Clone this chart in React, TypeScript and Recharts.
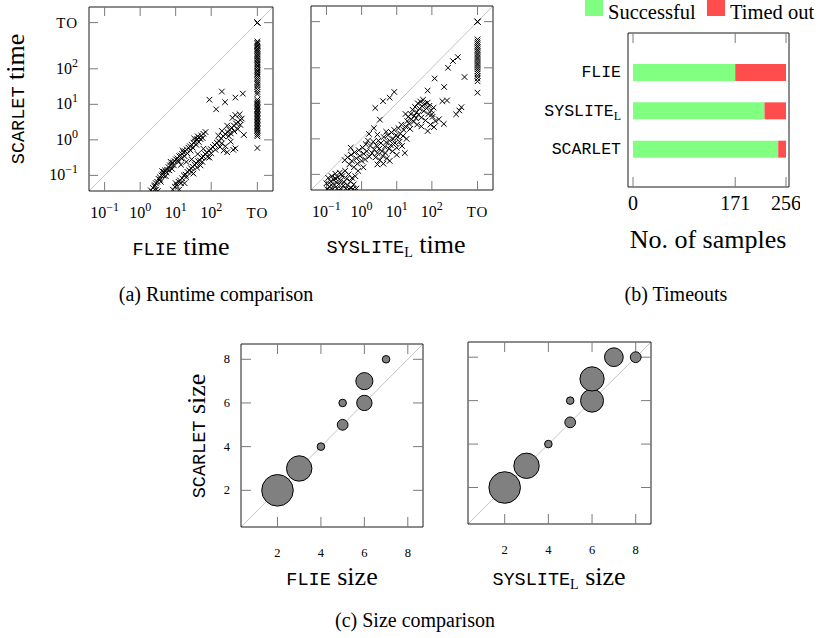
import type { ReactElement } from "react";
import { Bar, BarChart, ReferenceLine, Scatter, ScatterChart, XAxis, YAxis, ZAxis } from "recharts";

const SERIF = "'Liberation Serif', 'Times New Roman', serif";
const MONO = "'Liberation Mono', 'DejaVu Sans Mono', monospace";
const FRAME = { stroke: "#1a1a1a", strokeWidth: 1 };
const TICK = { stroke: "#7a7a7a", strokeWidth: 1 };
const GREEN = "#80ff80";
const RED = "#ff4d4d";

// ---- runtime comparison (log10 seconds, TO = timeout) ----
const TO_LOG = 3.3;
const TIME_TICKS = [-1, 0, 1, 2, TO_LOG];
const TIME_DOMAIN: [number, number] = [-1.44, 3.74];

// [FLIE, SCARLET]
const flieVsScarlet: [number, number][] = [
  [0.3, -1.42], [0.34, -1.46], [0.36, -1.35], [0.4, -1.3], [0.44, -1.22], [0.45, -1.4], [0.48, -1.18],
  [0.5, -1.44], [0.52, -1.1], [0.55, -1.05], [0.58, -1.18], [0.6, -1.0], [0.63, -0.97], [0.67, -0.9],
  [0.7, -0.86], [0.72, -1.02], [0.76, -0.84], [0.8, -0.77], [0.84, -0.72], [0.88, -0.7], [0.9, -0.82],
  [0.92, -0.64], [0.97, -0.6], [1.01, -0.55], [1.05, -0.52], [1.08, -0.62], [1.1, -0.46], [1.14, -0.44],
  [1.18, -0.4], [1.22, -0.35], [1.25, -0.46], [1.27, -0.32], [1.31, -0.27], [1.36, -0.22], [1.4, -0.18],
  [1.42, -0.3], [1.45, -0.14], [1.5, -0.08], [1.55, -0.05], [1.58, -0.14], [1.6, 0.02], [1.66, 0.06],
  [1.72, 0.12], [1.78, 0.17], [1.84, 0.22], [1.62, 0.1], [1.7, 0.02], [1.52, 0.04],
  [0.42, -1.28], [0.56, -1.12], [0.66, -1.0], [0.74, -0.92], [0.82, -0.86], [0.95, -0.72], [1.06, -0.58],
  [1.16, -0.52], [1.33, -0.38], [1.48, -0.22], [1.65, -0.06], [1.76, 0.05], [0.62, -0.88], [0.86, -0.62],
  [1.2, -0.3],
  [1.15, -0.7], [1.3, -0.62], [1.45, -0.55], [1.62, -0.4], [1.78, -0.25],
  [0.92, -1.4], [0.98, -1.32], [1.03, -1.28], [1.08, -1.18], [1.1, -1.4], [1.12, -1.14], [1.18, -1.08],
  [1.23, -1.0], [1.25, -1.22], [1.28, -0.98], [1.33, -0.9], [1.38, -0.86], [1.43, -0.8], [1.48, -0.76],
  [1.5, -0.95], [1.53, -0.7], [1.58, -0.66], [1.63, -0.6], [1.68, -0.58], [1.7, -0.72], [1.73, -0.5],
  [1.78, -0.47], [1.83, -0.4], [1.88, -0.36], [1.94, -0.3], [1.95, -0.5], [1.99, -0.26], [2.05, -0.2],
  [2.1, -0.14], [2.16, -0.08], [2.22, -0.04], [2.25, -0.2], [2.28, 0.04], [2.34, 0.1], [2.4, 0.16],
  [2.4, -0.18], [2.46, 0.22], [2.45, -0.35], [2.52, 0.28], [2.55, -0.05], [2.58, 0.34], [2.62, -0.28],
  [2.64, 0.4], [2.68, -0.24], [2.7, 0.46], [2.76, 0.5], [2.75, 0.3], [2.82, 0.56], [2.86, 0.6],
  [2.2, 0.12], [2.3, 0.25], [2.45, 0.4], [2.6, 0.62], [2.68, 0.7], [2.8, 0.72],
  [1.0, -1.22], [1.15, -1.22], [1.3, -1.05], [1.45, -0.9], [1.6, -0.78], [1.75, -0.62], [1.9, -0.48],
  [2.0, -0.38], [2.12, -0.28], [2.3, -0.1], [2.5, 0.1], [2.65, 0.24], [2.82, 0.42], [2.35, -0.3],
  [2.55, 0.18],
  [1.95, 1.13], [2.14, 0.86], [2.3, 1.36], [2.39, 1.06], [2.68, 1.19], [2.89, 1.3], [2.92, 0.14],
  [TO_LOG, 2.77], [TO_LOG, 2.73], [TO_LOG, 2.7], [TO_LOG, 2.65], [TO_LOG, 2.62], [TO_LOG, 2.57],
  [TO_LOG, 2.53], [TO_LOG, 2.5], [TO_LOG, 2.45], [TO_LOG, 2.41], [TO_LOG, 2.36], [TO_LOG, 2.33],
  [TO_LOG, 2.28], [TO_LOG, 2.24], [TO_LOG, 2.19], [TO_LOG, 2.15], [TO_LOG, 2.1], [TO_LOG, 2.06],
  [TO_LOG, 2.01], [TO_LOG, 1.96], [TO_LOG, 1.92], [TO_LOG, 1.87], [TO_LOG, 1.83], [TO_LOG, 1.78],
  [TO_LOG, 1.72], [TO_LOG, 1.66], [TO_LOG, 1.6], [TO_LOG, 1.55], [TO_LOG, 1.49], [TO_LOG, 1.42],
  [TO_LOG, 1.35], [TO_LOG, 1.29], [TO_LOG, 1.13], [TO_LOG, 1.08], [TO_LOG, 1.04], [TO_LOG, 1.0],
  [TO_LOG, 0.96], [TO_LOG, 0.92], [TO_LOG, 0.88], [TO_LOG, 0.85], [TO_LOG, 0.81], [TO_LOG, 0.77],
  [TO_LOG, 0.73], [TO_LOG, 0.69], [TO_LOG, 0.65], [TO_LOG, 0.61], [TO_LOG, 0.57], [TO_LOG, 0.53],
  [TO_LOG, 0.49], [TO_LOG, 0.45], [TO_LOG, 0.41], [TO_LOG, 0.37], [TO_LOG, 0.33], [TO_LOG, 0.29],
  [TO_LOG, 0.25], [TO_LOG, 0.2], [TO_LOG, 0.15], [TO_LOG, 0.1], [TO_LOG, -0.23],
  [TO_LOG, TO_LOG], [TO_LOG, TO_LOG], [TO_LOG, TO_LOG], [TO_LOG, TO_LOG],
];

// [SYSLITE_L, SCARLET]
const syslVsScarlet: [number, number][] = [
  [-1.0, -1.25], [-0.95, -1.1], [-0.92, -1.35], [-0.88, -1.2], [-0.85, -1.05], [-0.82, -1.42], [-0.8, -1.15],
  [-0.77, -1.3], [-0.75, -0.98], [-0.72, -1.22], [-0.7, -1.4], [-0.68, -1.08], [-0.65, -1.28], [-0.62, -0.95],
  [-0.6, -1.18], [-0.58, -1.42], [-0.55, -1.05], [-0.52, -1.32], [-0.5, -1.22], [-0.47, -0.9], [-0.45, -1.4],
  [-0.42, -1.12], [-0.4, -1.3], [-0.37, -1.0], [-0.35, -1.42], [-0.32, -1.2], [-0.3, -1.38], [-0.27, -1.1],
  [-0.25, -1.42], [-0.22, -1.28], [-0.18, -1.05], [-0.15, -1.4], [-0.9, -1.45], [-0.65, -1.45], [-0.4, -1.45],
  [-0.2, -1.45], [-0.98, -1.42], [-0.86, -1.3], [-0.74, -1.12], [-0.58, -1.0],
  [-0.48, -0.6], [-0.4, -0.52], [-0.35, -0.72], [-0.3, -0.45], [-0.28, -0.62], [-0.22, -0.8], [-0.2, -0.38],
  [-0.15, -0.55], [-0.12, -0.7], [-0.08, -0.32], [-0.05, -0.48], [0.0, -0.62], [0.03, -0.25], [0.06, -0.42],
  [0.1, -0.58], [0.12, -0.15], [0.15, -0.35], [0.18, -0.05], [0.22, -0.5], [-0.1, -0.9], [0.05, -0.8],
  [-0.31, -0.25], [0.21, 0.14], [0.35, 0.3], [0.45, 0.12],
  [0.25, -0.2], [0.3, -0.4], [0.33, -0.08], [0.36, -0.3], [0.4, -0.52], [0.42, -0.18], [0.45, -0.4],
  [0.48, -0.05], [0.5, -0.28], [0.52, -0.6], [0.55, -0.12], [0.58, -0.35], [0.6, -0.48], [0.63, 0.05],
  [0.66, -0.22], [0.68, -0.4], [0.7, -0.1], [0.72, -0.55], [0.75, 0.1], [0.78, -0.28], [0.8, -0.05],
  [0.83, -0.18], [0.85, 0.18], [0.88, -0.35], [0.9, 0.0], [0.93, 0.25], [0.95, -0.12], [0.98, 0.1],
  [1.0, -0.25], [1.03, 0.05], [1.05, 0.3], [1.08, -0.08], [1.1, 0.15], [1.13, 0.4], [1.15, -0.2],
  [1.18, 0.08], [1.2, 0.25], [1.23, -0.4], [1.25, 0.35], [1.28, 0.0], [0.62, -0.7], [0.8, -0.62],
  [0.45, -0.72], [1.0, -0.45], [0.7, 0.2],
  [1.3, 0.5], [1.33, 0.62], [1.36, 0.42], [1.4, 0.7], [1.42, 0.55], [1.45, 0.82], [1.48, 0.48],
  [1.5, 0.65], [1.52, 0.9], [1.55, 0.58], [1.57, 0.75], [1.6, 1.0], [1.62, 0.68], [1.65, 0.85],
  [1.67, 1.05], [1.7, 0.6], [1.72, 0.92], [1.75, 1.1], [1.77, 0.78], [1.8, 0.98], [1.82, 0.52],
  [1.85, 0.86], [1.88, 1.02], [1.9, 0.7], [1.93, 0.93], [1.96, 0.4], [1.98, 0.8], [2.02, 0.62],
  [2.05, 0.88], [1.58, 0.4], [1.38, 0.28], [1.7, 0.35], [1.88, 0.22], [2.1, 0.5], [1.25, 0.7],
  [2.08, 1.7], [1.88, 1.36], [2.35, 1.46], [2.46, 2.0], [2.6, 2.19], [2.74, 2.3], [2.93, 1.74],
  [2.43, 1.08], [2.3, 1.06], [2.84, 0.89], [2.69, 0.69], [2.78, 0.8], [2.34, 0.42], [2.06, 0.33],
  [2.0, 0.69], [2.2, 0.55], [0.61, 1.06], [0.8, 1.16], [0.93, 1.32], [0.39, 0.87], [0.52, 0.54],
  [TO_LOG, 2.8], [TO_LOG, 2.74], [TO_LOG, 2.69], [TO_LOG, 2.63], [TO_LOG, 2.58], [TO_LOG, 2.52],
  [TO_LOG, 2.47], [TO_LOG, 2.41], [TO_LOG, 2.36], [TO_LOG, 2.3], [TO_LOG, 2.25], [TO_LOG, 2.19],
  [TO_LOG, 2.13], [TO_LOG, 2.08], [TO_LOG, 2.02], [TO_LOG, 1.96], [TO_LOG, 1.9], [TO_LOG, 1.84],
  [TO_LOG, 1.77], [TO_LOG, 1.7], [TO_LOG, 1.62], [TO_LOG, 1.3],
  [TO_LOG, TO_LOG], [TO_LOG, TO_LOG], [TO_LOG, TO_LOG], [TO_LOG, TO_LOG],
];

// ---- timeouts ----
const solvers = ["FLIE", "SYSLITE_L", "SCARLET"];
const successful = [171, 220, 243];
const timedOut = [85, 36, 13];
const BAR_TICKS = [0, 171, 256];
const BAR_DOMAIN: [number, number] = [-8.4, 261];

// ---- size comparison: [other size, SCARLET size, no. of samples] ----
const SIZE_TICKS = [2, 4, 6, 8];
const SIZE_DOMAIN: [number, number] = [0.32, 8.7];
const flieSizes: [number, number, number][] = [
  [2, 2, 17], [3, 3, 11], [4, 4, 1], [5, 5, 2], [5, 6, 1], [6, 6, 4], [6, 7, 5], [7, 8, 1],
];
const syslSizes: [number, number, number][] = [
  [2, 2, 17], [3, 3, 11], [4, 4, 1], [5, 5, 2], [5, 6, 1], [6, 6, 9], [6, 7, 10], [7, 8, 6], [8, 8, 2],
];

type Pos = {
  left: number;
  top: number;
  width: number;
  height: number;
  margin: { top: number; right: number; bottom: number; left: number };
  yAxisWidth: number;
  xAxisHeight: number;
};

function XMark(props: any) {
  const { cx, cy } = props;
  if (cx == null || cy == null) return null;
  const s = 2.8;
  return (
    <path
      d={`M${cx - s},${cy - s}L${cx + s},${cy + s}M${cx - s},${cy + s}L${cx + s},${cy - s}`}
      stroke="#000"
      strokeWidth={1}
      fill="none"
    />
  );
}

const EmptyTick = () => <g />;

function timeLabel(v: number): ReactElement {
  if (v === TO_LOG) {
    return <tspan fontSize={15} letterSpacing={1}>TO</tspan>;
  }
  return (
    <>
      <tspan>10</tspan>
      <tspan dy={-7} fontSize={12}>{v < 0 ? `\u2212${-v}` : `${v}`}</tspan>
    </>
  );
}

function TimeTickX(props: any) {
  const { x, y, payload } = props;
  return (
    <text x={x} y={y + 27} textAnchor="middle" fontFamily={SERIF} fontSize={16} fill="#000">
      {timeLabel(payload.value)}
    </text>
  );
}

function TimeTickY(props: any) {
  const { x, y, payload } = props;
  return (
    <text x={x} y={y + 5} textAnchor="end" fontFamily={SERIF} fontSize={16} fill="#000">
      {timeLabel(payload.value)}
    </text>
  );
}

// top and right sides of the frame (1px wide axes, ticks pointing inward)
function topRightAxes(domain: [number, number], ticks: number[], tickLen: number) {
  const common = {
    type: "number" as const,
    domain,
    ticks,
    allowDataOverflow: true,
    tick: EmptyTick,
    interval: 0 as const,
    tickSize: -tickLen,
    axisLine: FRAME,
    tickLine: TICK,
  };
  return [
    <XAxis key="ft" xAxisId="ft" dataKey="x" orientation="top" height={1} {...common} />,
    <YAxis key="fr" yAxisId="fr" dataKey="y" orientation="right" width={1} {...common} />,
  ];
}

function TimeScatter({ pos, points, showYTicks }: { pos: Pos; points: [number, number][]; showYTicks: boolean }) {
  const solved = points.filter(([x]) => x !== TO_LOG).map(([x, y]) => ({ x, y }));
  const unsolved = points.filter(([x]) => x === TO_LOG).map(([x, y]) => ({ x, y }));
  return (
    <div style={{ position: "absolute", left: pos.left, top: pos.top }}>
      <ScatterChart width={pos.width} height={pos.height} margin={pos.margin}>
        {topRightAxes(TIME_DOMAIN, TIME_TICKS, 9)}
        <XAxis
          xAxisId="lab"
          dataKey="x"
          type="number"
          domain={TIME_DOMAIN}
          ticks={TIME_TICKS}
          allowDataOverflow
          interval={0}
          height={pos.xAxisHeight}
          axisLine={FRAME}
          tickLine={TICK}
          tickSize={-9}
          tickMargin={9}
          tick={(p: any) => <TimeTickX {...p} />}
        />
        <YAxis
          yAxisId="lab"
          dataKey="y"
          type="number"
          domain={TIME_DOMAIN}
          ticks={TIME_TICKS}
          allowDataOverflow
          interval={0}
          width={pos.yAxisWidth}
          axisLine={FRAME}
          tickLine={TICK}
          tickSize={-9}
          tickMargin={20}
          tick={showYTicks ? (p: any) => <TimeTickY {...p} /> : EmptyTick}
        />
        <ReferenceLine
          xAxisId="lab"
          yAxisId="lab"
          segment={[
            { x: TIME_DOMAIN[0], y: TIME_DOMAIN[0] },
            { x: TIME_DOMAIN[1], y: TIME_DOMAIN[1] },
          ]}
          stroke="#c4c4c4"
          strokeWidth={1}
        />
        <Scatter xAxisId="lab" yAxisId="lab" data={solved} shape={XMark} isAnimationActive={false} />
        <Scatter xAxisId="ft" yAxisId="fr" data={unsolved} shape={XMark} isAnimationActive={false} />
      </ScatterChart>
    </div>
  );
}

function SizeTickX(props: any) {
  const { x, y, payload } = props;
  return (
    <text x={x} y={y + 30} textAnchor="middle" fontFamily={SERIF} fontSize={12.5} fill="#000">
      {payload.value}
    </text>
  );
}

function SizeTickY(props: any) {
  const { x, y, payload } = props;
  return (
    <text x={x} y={y + 4} textAnchor="end" fontFamily={SERIF} fontSize={12.5} fill="#000">
      {payload.value}
    </text>
  );
}

function SizeBubbles({ pos, points, showYTicks }: { pos: Pos; points: [number, number, number][]; showYTicks: boolean }) {
  const equal = points.filter(([x, y]) => x === y).map(([x, y, n]) => ({ x, y, n }));
  const larger = points.filter(([x, y]) => x !== y).map(([x, y, n]) => ({ x, y, n }));
  return (
    <div style={{ position: "absolute", left: pos.left, top: pos.top }}>
      <ScatterChart width={pos.width} height={pos.height} margin={pos.margin}>
        {topRightAxes(SIZE_DOMAIN, SIZE_TICKS, 10)}
        <XAxis
          xAxisId="lab"
          dataKey="x"
          type="number"
          domain={SIZE_DOMAIN}
          ticks={SIZE_TICKS}
          allowDataOverflow
          interval={0}
          height={pos.xAxisHeight}
          axisLine={FRAME}
          tickLine={TICK}
          tickSize={-10}
          tickMargin={10}
          tick={(p: any) => <SizeTickX {...p} />}
        />
        <YAxis
          yAxisId="lab"
          dataKey="y"
          type="number"
          domain={SIZE_DOMAIN}
          ticks={SIZE_TICKS}
          allowDataOverflow
          interval={0}
          width={pos.yAxisWidth}
          axisLine={FRAME}
          tickLine={TICK}
          tickSize={-10}
          tickMargin={21}
          tick={showYTicks ? (p: any) => <SizeTickY {...p} /> : EmptyTick}
        />
        <ZAxis dataKey="n" type="number" domain={[1, 17]} range={[45, 784]} />
        <ReferenceLine
          xAxisId="lab"
          yAxisId="lab"
          segment={[
            { x: SIZE_DOMAIN[0], y: SIZE_DOMAIN[0] },
            { x: SIZE_DOMAIN[1], y: SIZE_DOMAIN[1] },
          ]}
          stroke="#c4c4c4"
          strokeWidth={1}
        />
        <Scatter xAxisId="lab" yAxisId="lab" data={equal} fill="#808080" stroke="#000" strokeWidth={1} isAnimationActive={false} />
        <Scatter xAxisId="ft" yAxisId="fr" data={larger} fill="#808080" stroke="#000" strokeWidth={1} isAnimationActive={false} />
      </ScatterChart>
    </div>
  );
}

function SolverTick(props: any) {
  const { x, y, payload } = props;
  const [name, sub] = String(payload.value).split("_");
  return (
    <text x={x} y={y + 5} textAnchor="end" fill="#000">
      <tspan fontFamily={MONO} fontSize={16.5}>{name}</tspan>
      {sub ? (
        <tspan fontFamily={SERIF} fontSize={12} dy={4}>{sub}</tspan>
      ) : null}
    </text>
  );
}

function CountTick(props: any) {
  const { x, y, payload } = props;
  return (
    <text x={x} y={y + 22.5} textAnchor="middle" fontFamily={SERIF} fontSize={20} fill="#000">
      {payload.value}
    </text>
  );
}

function TimeoutBars() {
  const data = solvers.map((name, i) => ({ name, successful: successful[i], timedOut: timedOut[i], total: successful[i] + timedOut[i] }));
  return (
    <div style={{ position: "absolute", left: 500, top: 28 }}>
      <BarChart
        layout="vertical"
        width={300}
        height={230}
        data={data}
        margin={{ top: 4, right: 10, bottom: 0, left: 0 }}
        barSize={17}
      >
        <XAxis
          xAxisId="ft"
          orientation="top"
          type="number"
          domain={BAR_DOMAIN}
          ticks={BAR_TICKS}
          allowDataOverflow
          interval={0}
          height={1}
          axisLine={FRAME}
          tickLine={TICK}
          tickSize={-10}
          tick={EmptyTick}
        />
        <XAxis
          xAxisId="lab"
          type="number"
          domain={BAR_DOMAIN}
          ticks={BAR_TICKS}
          allowDataOverflow
          interval={0}
          height={71}
          axisLine={FRAME}
          tickLine={TICK}
          tickSize={-10}
          tickMargin={10}
          tick={(p: any) => <CountTick {...p} />}
        />
        <YAxis
          yAxisId="lab"
          type="category"
          dataKey="name"
          width={128}
          padding={{ top: 20, bottom: 19 }}
          axisLine={FRAME}
          tickLine={false}
          tickSize={0}
          tickMargin={7}
          interval={0}
          tick={(p: any) => <SolverTick {...p} />}
        />
        <YAxis
          yAxisId="fr"
          orientation="right"
          type="category"
          dataKey="name"
          width={1}
          padding={{ top: 20, bottom: 19 }}
          axisLine={FRAME}
          tickLine={false}
          tick={false}
        />
        {/* full sample count, unfilled; it carries the top and right frame axes */}
        <Bar xAxisId="ft" yAxisId="fr" dataKey="total" fill="none" isAnimationActive={false} />
        <Bar xAxisId="lab" yAxisId="lab" dataKey="successful" stackId="s" fill={GREEN} isAnimationActive={false} />
        <Bar xAxisId="lab" yAxisId="lab" dataKey="timedOut" stackId="s" fill={RED} isAnimationActive={false} />
      </BarChart>
    </div>
  );
}

const LABEL = 26;
const MONO_LABEL = 18.5;

function Texts() {
  return (
    <svg
      width={828}
      height={638}
      style={{ position: "absolute", left: 0, top: 0, pointerEvents: "none" }}
      fill="#000"
    >
      <text transform="translate(24,99) rotate(-90)" textAnchor="middle">
        <tspan fontFamily={MONO} fontSize={MONO_LABEL}>SCARLET</tspan>
        <tspan fontFamily={SERIF} fontSize={LABEL}> time</tspan>
      </text>
      <text x={181} y={255} textAnchor="middle">
        <tspan fontFamily={MONO} fontSize={MONO_LABEL}>FLIE</tspan>
        <tspan fontFamily={SERIF} fontSize={LABEL}> time</tspan>
      </text>
      <text x={396} y={253} textAnchor="middle">
        <tspan fontFamily={MONO} fontSize={MONO_LABEL}>SYSLITE</tspan>
        <tspan fontFamily={SERIF} fontSize={14} dy={4}>L</tspan>
        <tspan fontFamily={SERIF} fontSize={LABEL} dy={-4}> time</tspan>
      </text>
      <rect x={585} y={0} width={18} height={16} fill={GREEN} />
      <text x={608} y={19} fontFamily={SERIF} fontSize={20.5}>Successful</text>
      <rect x={707} y={0} width={18} height={16} fill={RED} />
      <text x={730} y={19} fontFamily={SERIF} fontSize={20.5}>Timed out</text>
      <text x={708} y={248} textAnchor="middle" fontFamily={SERIF} fontSize={LABEL}>No. of samples</text>
      <text transform="translate(205,436) rotate(-90)" textAnchor="middle">
        <tspan fontFamily={MONO} fontSize={MONO_LABEL}>SCARLET</tspan>
        <tspan fontFamily={SERIF} fontSize={LABEL}> size</tspan>
      </text>
      <text x={332} y={585} textAnchor="middle">
        <tspan fontFamily={MONO} fontSize={MONO_LABEL}>FLIE</tspan>
        <tspan fontFamily={SERIF} fontSize={LABEL}> size</tspan>
      </text>
      <text x={559} y={585} textAnchor="middle">
        <tspan fontFamily={MONO} fontSize={MONO_LABEL}>SYSLITE</tspan>
        <tspan fontFamily={SERIF} fontSize={14} dy={4}>L</tspan>
        <tspan fontFamily={SERIF} fontSize={LABEL} dy={-4}> size</tspan>
      </text>
      <text x={216} y={301} textAnchor="middle" fontFamily={SERIF} fontSize={20}>(a) Runtime comparison</text>
      <text x={676} y={301} textAnchor="middle" fontFamily={SERIF} fontSize={20}>(b) Timeouts</text>
      <text x={415} y={627} textAnchor="middle" fontFamily={SERIF} fontSize={20}>(c) Size comparison</text>
    </svg>
  );
}

export default function App() {
  return (
    <div style={{ position: "absolute", left: 0, top: 0, width: 828, height: 638, background: "#fff", overflow: "hidden" }}>
      <TimeScatter
        pos={{ left: 0, top: 0, width: 300, height: 260, margin: { top: 6, right: 26, bottom: 0, left: 0 }, yAxisWidth: 89, xAxisHeight: 69 }}
        points={flieVsScarlet}
        showYTicks
      />
      <TimeScatter
        pos={{ left: 290, top: 0, width: 230, height: 260, margin: { top: 5, right: 26, bottom: 0, left: 0 }, yAxisWidth: 21, xAxisHeight: 70 }}
        points={syslVsScarlet}
        showYTicks={false}
      />
      <TimeoutBars />
      <SizeBubbles
        pos={{ left: 180, top: 330, width: 260, height: 240, margin: { top: 13, right: 16, bottom: 0, left: 0 }, yAxisWidth: 61, xAxisHeight: 43 }}
        points={flieSizes}
        showYTicks
      />
      <SizeBubbles
        pos={{ left: 440, top: 330, width: 240, height: 240, margin: { top: 11, right: 28, bottom: 0, left: 0 }, yAxisWidth: 28, xAxisHeight: 46 }}
        points={syslSizes}
        showYTicks={false}
      />
      <Texts />
    </div>
  );
}
